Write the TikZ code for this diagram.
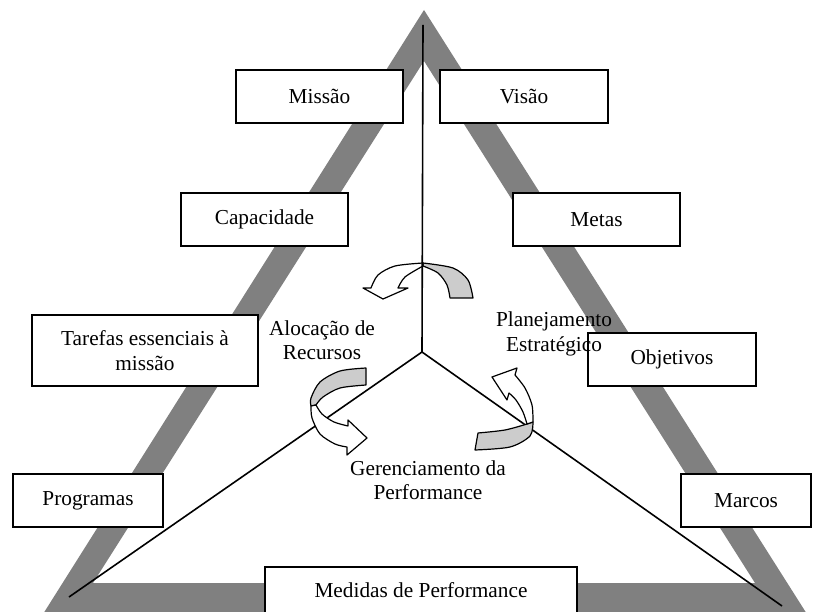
\documentclass[tikz,border=0pt]{standalone}
\usepackage{fontspec}
\setmainfont{Liberation Serif}
\begin{document}
\begin{tikzpicture}[x=1pt,y=-1pt,
  lbl/.style={font=\fontsize{21.3}{24.5}\selectfont},
  box/.style={draw=black,line width=1.4pt,fill=white,inner sep=0pt,
    align=center,minimum height=53pt,font=\fontsize{21.3}{24.5}\selectfont},
  axis/.style={draw=black,line width=1.6pt},
  front/.style={draw=black,line width=1.2pt,fill=white,line join=round},
  back/.style={draw=black,line width=1.2pt,fill=black!20,line join=round}]
\useasboundingbox (0,0) rectangle (817,612);
\fill[white] (0,0) rectangle (817,612);

% grey triangular frame
\begin{scope}
  \clip (0,0) rectangle (817,612);
  \fill[black!50,even odd rule]
    (424,10) -- (38,622) -- (812,622) -- cycle
    (424,61) -- (93,583) -- (755,583) -- cycle;
\end{scope}

% rotation arrow at the top of the axis
\draw[back] plot[smooth] coordinates {(423,263) (453,268) (468,280) (473,298)}
  -- (450,298) -- plot[smooth] coordinates {(450,298) (447,285) (438,273) (423,266)} -- cycle;
\draw[front] plot[smooth] coordinates {(423,263) (395,266) (378,275) (371,288)}
  -- (363,288) -- (383,299) -- (408,288) -- (398,288)
  -- plot[smooth] coordinates {(398,288) (405,277) (423,266)} -- cycle;

% the three axes
\coordinate (top) at (423,25);
\coordinate (ctr) at (422,352);
\coordinate (bl) at (69,597);
\coordinate (br) at (782,606);
\draw[axis] (ctr) -- (top);
\draw[axis] (ctr) -- (bl);
\draw[axis] (ctr) -- (br);

% rotation arrow on the left axis
\draw[back] plot[smooth] coordinates {(366,368) (340,371) (320,382) (311,398) (311,406)}
  -- (316,405) -- plot[smooth] coordinates {(316,405) (323,397) (340,388) (366,385)} -- cycle;
\draw[front] plot[smooth] coordinates {(311,406) (312,418) (320,434) (335,444) (347,447)}
  -- (347,455) -- (367,438) -- (348,420) -- (348,426)
  -- plot[smooth] coordinates {(348,426) (334,422) (322,414) (316,405)} -- cycle;

% rotation arrow on the right axis
\draw[back] plot[smooth] coordinates {(478,433) (505,430) (527,424)} -- (533,422)
  -- plot[smooth] coordinates {(533,422) (530,436) (510,447) (475,450)} -- cycle;
\draw[front] plot[smooth] coordinates {(533,422) (532,405) (525,388) (515,375)}
  -- (517,368) -- (492,377) -- (507,400) -- (509,393)
  -- plot[smooth] coordinates {(509,393) (516,400) (523,412) (527,424)} -- cycle;

% boxes
\node[box,minimum width=167pt] (missao) at (319.5,96.5) {Missão};
\node[box,minimum width=168pt] (visao) at (524,96.5) {Visão};
\node[box,minimum width=167pt] (capacidade) at (264.5,219.5) {Capacidade};
\node[box,minimum width=167pt] (metas) at (596.5,219.5) {Metas};
\node[box,minimum width=226pt,minimum height=71pt] (tarefas) at (145,350.5) {Tarefas essenciais à\\missão};
\node[box,minimum width=168pt] (objetivos) at (672,359.5) {Objetivos};
\node[box,minimum width=150pt] (programas) at (88,500.5) {Programas};
\node[box,minimum width=130pt] (marcos) at (746,500.5) {Marcos};
\node[box,minimum width=312pt,minimum height=46pt] (medidas) at (421,590) {Medidas de Performance};

% labels of the three processes
\node[lbl,align=center] (alocacao) at (322,340) {Alocação de\\Recursos};
\node[lbl,align=center] (planejamento) at (554,334) {Planejamento\\Estratégico};
\node[lbl,align=center] (gerenciamento) at (428,480) {Gerenciamento da\\Performance};
\end{tikzpicture}
\end{document}
